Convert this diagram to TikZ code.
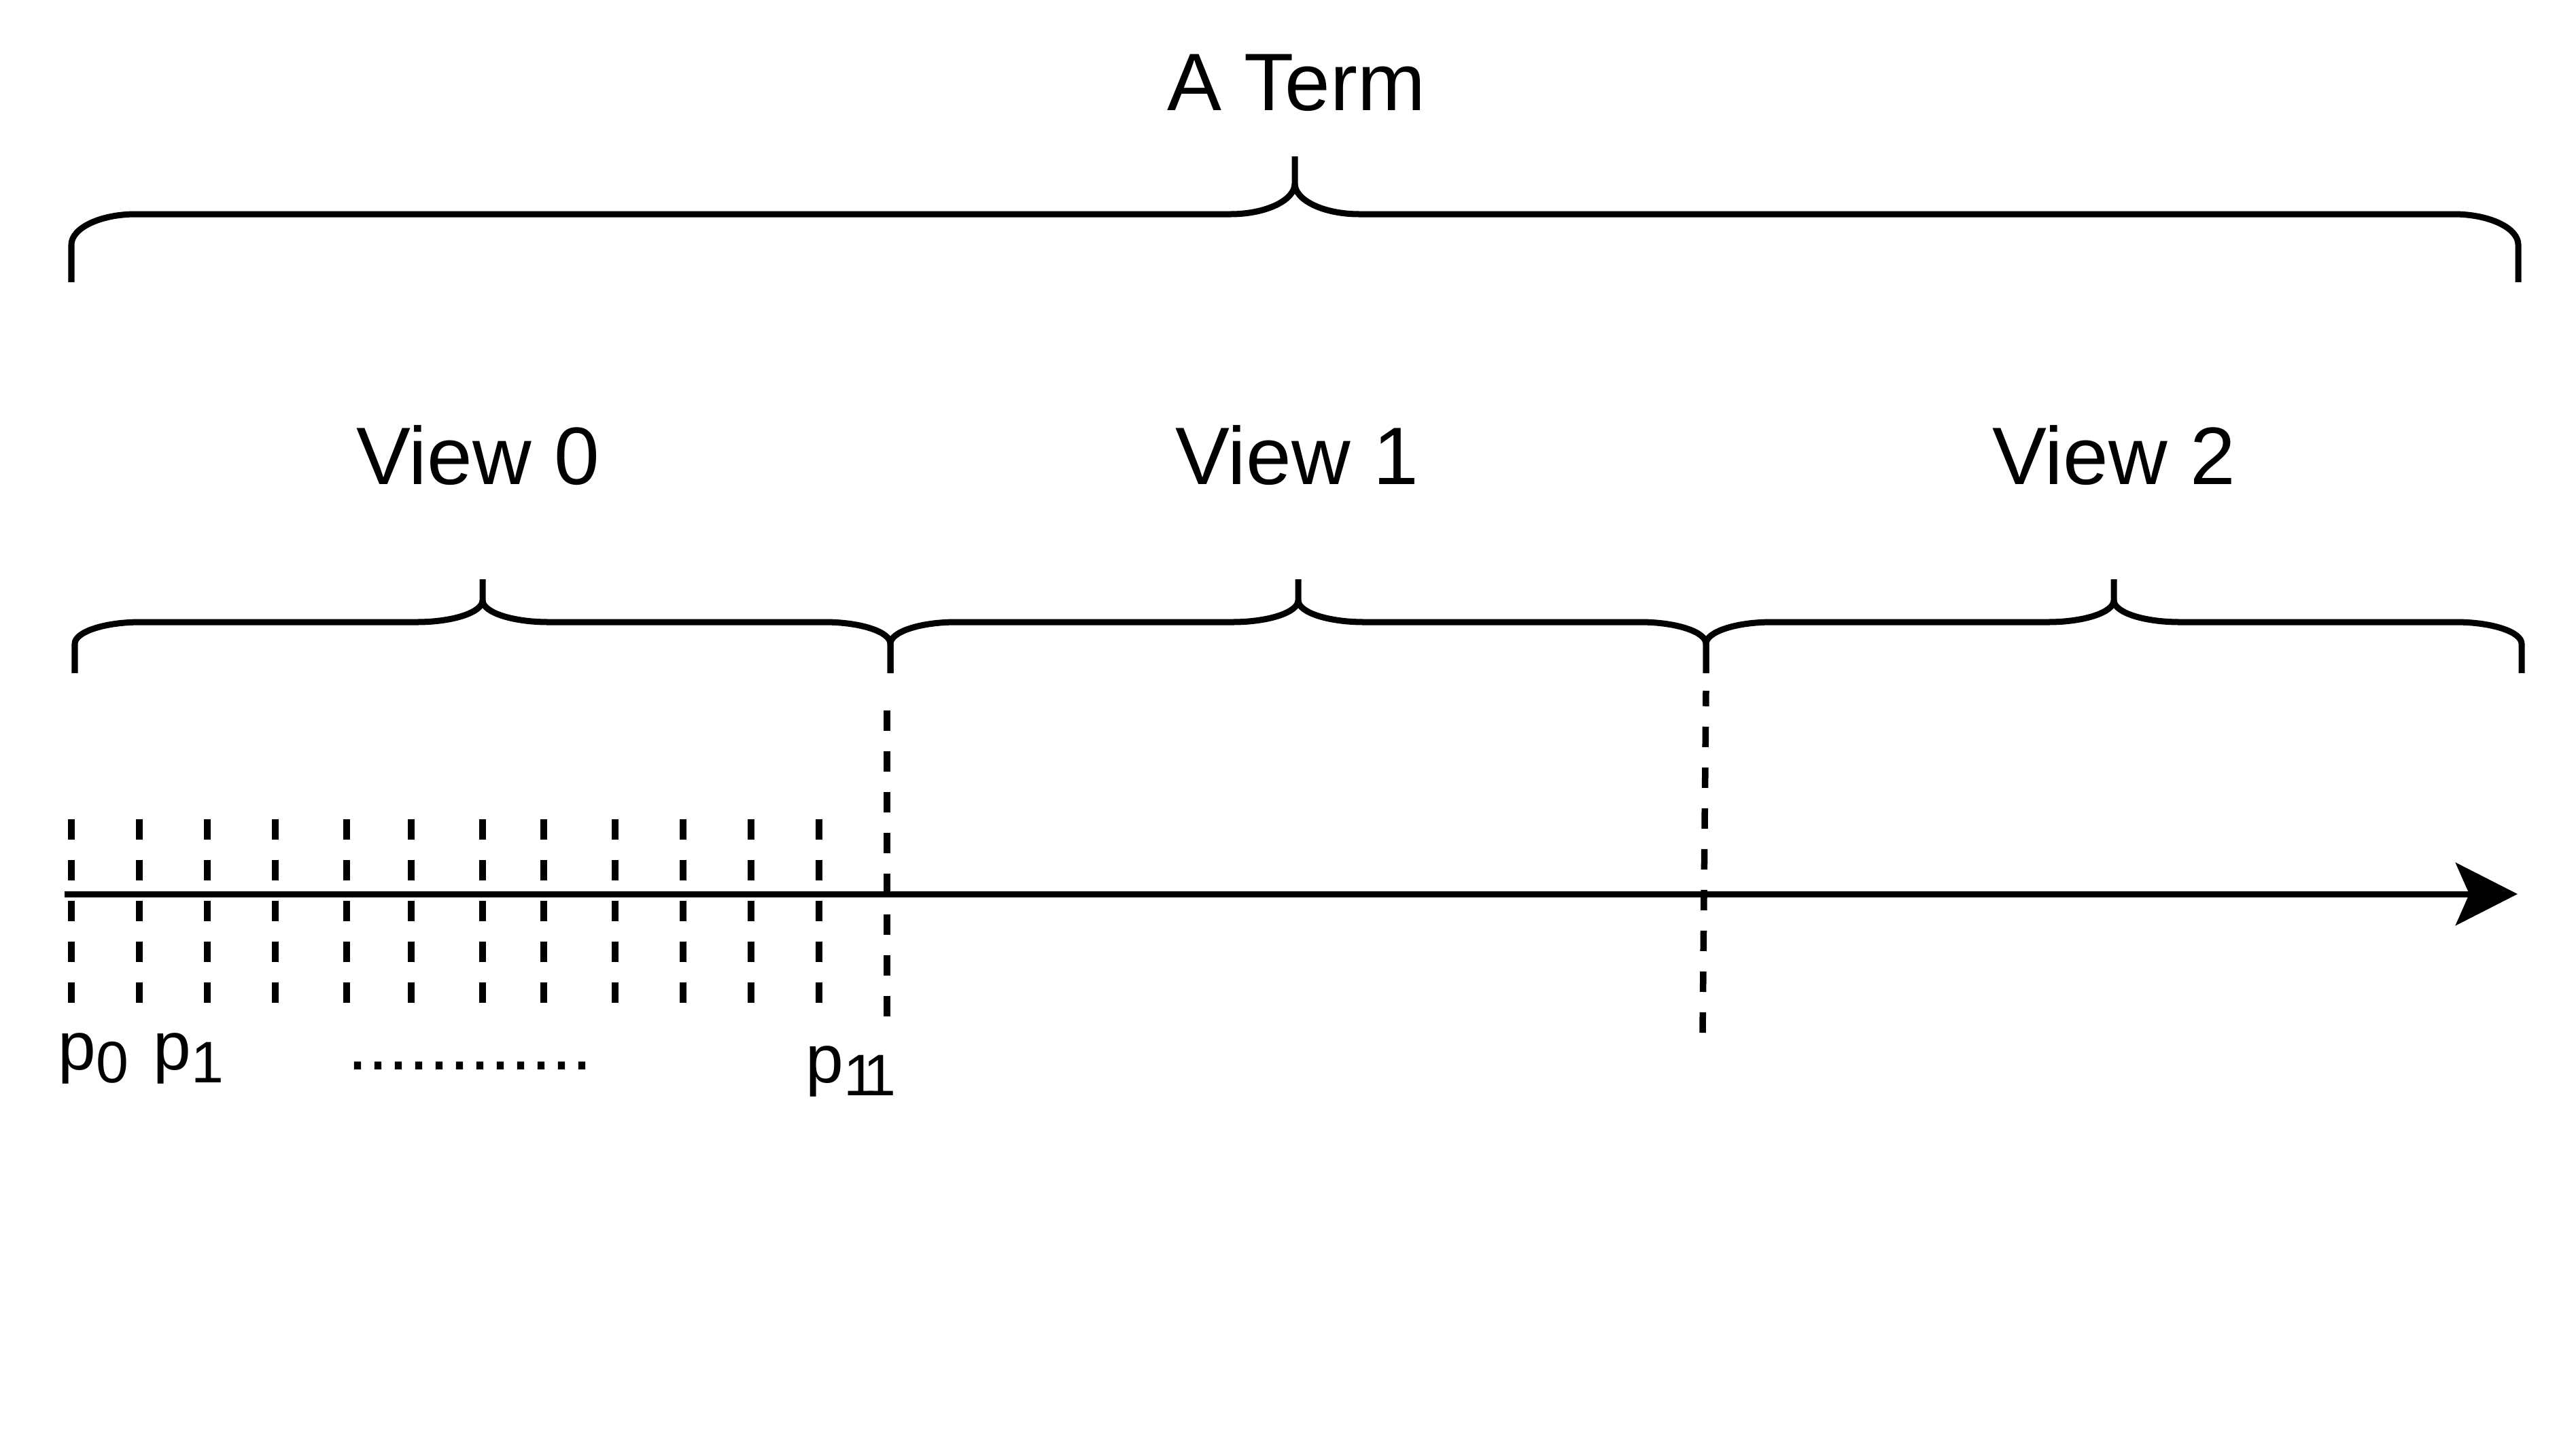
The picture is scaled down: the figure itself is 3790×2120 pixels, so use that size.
\documentclass[tikz,border=0pt]{standalone}
\usepackage{fontspec}
\setmainfont{Liberation Sans}
\usetikzlibrary{arrows.meta}
% brace: #1 left x, #2 right x, #3 tip x, #4 tip y, #5 bar y, #6 end y, #7 corner width, #8 corner height
\newcommand\drawbrace[8]{%
  \draw[bracestyle] (#1,#6) -- ({#1},{#5+#8})
    .. controls ({#1},{#5+0.45*#8}) and ({#1+0.45*#7},{#5}) .. ({#1+#7},{#5})
    -- ({#3-#7},{#5})
    .. controls ({#3-0.45*#7},{#5}) and ({#3},{#5-0.45*#8}) .. ({#3},{#5-#8})
    -- ({#3},{#4});
  \draw[bracestyle] ({#3},{#5-#8})
    .. controls ({#3},{#5-0.45*#8}) and ({#3+0.45*#7},{#5}) .. ({#3+#7},{#5})
    -- ({#2-#7},{#5})
    .. controls ({#2-0.45*#7},{#5}) and ({#2},{#5+0.45*#8}) .. ({#2},{#5+#8})
    -- ({#2},{#6});
}
\tikzset{
  bracestyle/.style={line width=0.09cm, line join=round},
  tickline/.style={line width=0.095cm, dash pattern=on 0.3cm off 0.3cm},
  axisline/.style={line width=0.09cm, -{Stealth[length=0.91cm,width=0.92cm,inset=0.2cm]}},
  bigtext/.style={inner sep=0pt, anchor=base, font=\fontsize{34.1pt}{40pt}\selectfont},
  ptext/.style={inner sep=0pt, anchor=base west, font=\fontsize{28.5pt}{34pt}\selectfont},
  dotstext/.style={inner sep=0pt, anchor=base, font=\fontsize{30.7pt}{36pt}\selectfont},
}
\newcommand\psub[1]{\raisebox{-0.19cm}{\fontsize{24.5pt}{28pt}\selectfont #1}}
\begin{document}
\begin{tikzpicture}[x=0.01cm, y=-0.01cm]
\useasboundingbox (0,0) rectangle (3790,2120);

% titles
\node[bigtext] (term) at (1907,162) {A Term};
\node[bigtext] (view0) at (703,712) {View 0};
\node[bigtext] (view1) at (1908,712) {View 1};
\node[bigtext] (view2) at (3110,712) {View 2};

% braces
\drawbrace{105}{3705}{1905}{230}{315}{415}{95}{45}
\drawbrace{110}{1310}{710}{852}{915}{990}{97}{32}
\drawbrace{1310}{2510}{1910}{852}{915}{990}{97}{32}
\drawbrace{2510}{3710}{3110}{852}{915}{990}{97}{32}

% ticks
\foreach \x in {105,205,305,405,510,605,710,800,905,1005,1105,1205}
  \draw[tickline] (\x,1205) -- (\x,1475);

% view separators
\draw[tickline] (1305,1495) -- (1305,1040);
\draw[tickline] (2505,1519) -- (2510,1016);

% axis
\coordinate (axisstart) at (95,1315);
\coordinate (axisend) at (3704,1315);
\draw[axisline] (axisstart) -- (axisend);

% point labels
\node[ptext] (p0) at (85,1573) {p\psub{0}};
\node[ptext] (p1) at (225,1573) {p\psub{1}};
\node[dotstext] (dots) at (691,1573) {............};
\node[ptext] (p11) at (1185,1592) {p\psub{1\kern-0.22em1}};
\end{tikzpicture}
\end{document}
